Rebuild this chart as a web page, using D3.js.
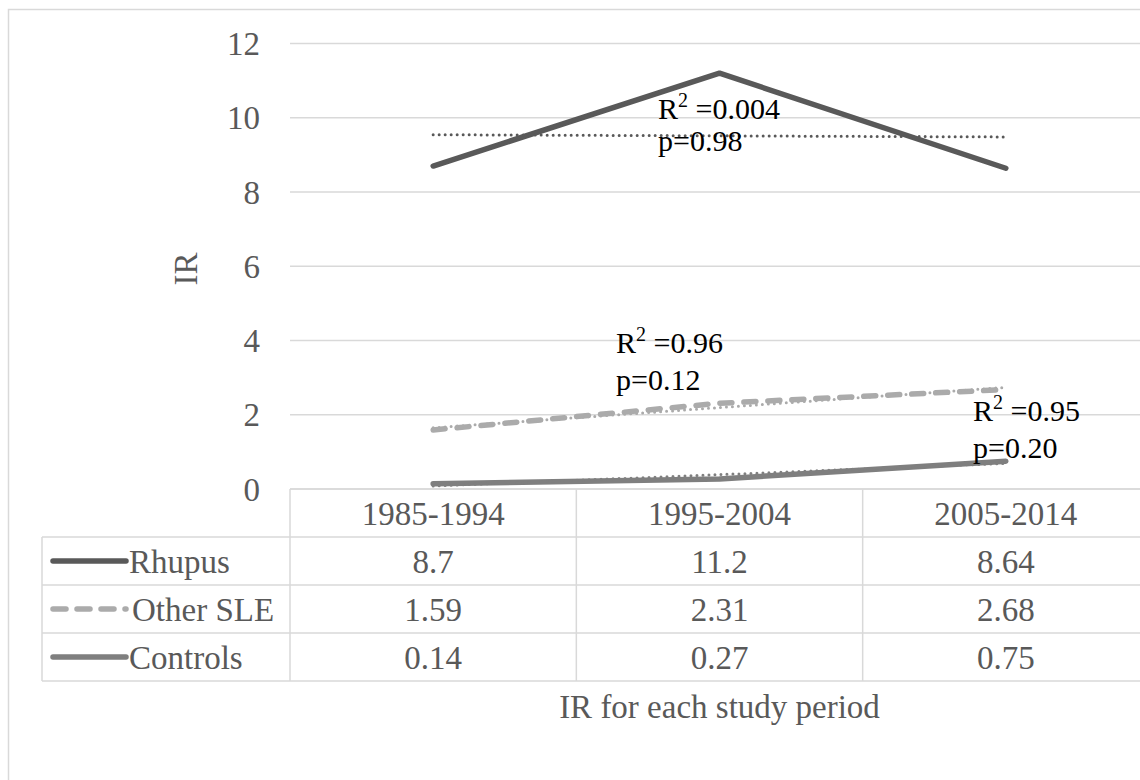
<!DOCTYPE html>
<html>
<head>
<meta charset="utf-8">
<script src="https://cdn.jsdelivr.net/npm/d3@7"></script>
<style>
  body { margin: 0; background: #fff; }
</style>
</head>
<body>
<script>
// data
var periods = ["1985-1994", "1995-2004", "2005-2014"];
var seriesNames = ["Rhupus", "Other SLE", "Controls"];
var rhupus = [8.7, 11.2, 8.64];
var otherSLE = [1.59, 2.31, 2.68];
var controls = [0.14, 0.27, 0.75];
var tableLabels = ["8.7", "11.2", "8.64", "1.59", "2.31", "2.68", "0.14", "0.27", "0.75"];
var yTicks = [0, 2, 4, 6, 8, 10, 12];
var fitLabels = [["0.004", "0.98"], ["0.96", "0.12"], ["0.95", "0.20"]];

var W = 1140, H = 780;
var plotLeft = 290, plotRight = 1149, plotTop = 43.5, plotBottom = 489;
var rowH = 48;
var grayText = "#595959";

var svg = d3.select("body").append("svg")
    .attr("width", W)
    .attr("height", H)
    .attr("font-family", "Liberation Serif");

// chart area border
svg.append("rect")
    .attr("x", 8.5).attr("y", 9.5)
    .attr("width", 1200).attr("height", 900)
    .attr("fill", "#fff")
    .attr("stroke", "#d9d9d9")
    .attr("stroke-width", 1.5);

var x = d3.scaleBand()
    .domain(periods)
    .range([plotLeft, plotRight]);

var y = d3.scaleLinear()
    .domain([0, 12])
    .range([plotBottom, plotTop]);

function label(sel, size, color) {
  return sel.attr("font-family", "Liberation Serif")
      .style("font", size + "px 'Liberation Serif', serif")
      .attr("fill", color);
}

// gridlines
svg.append("g")
  .selectAll("line")
  .data(yTicks)
  .enter().append("line")
    .attr("x1", plotLeft).attr("x2", plotRight)
    .attr("y1", function(d) { return y(d); })
    .attr("y2", function(d) { return y(d); })
    .attr("stroke", "#d9d9d9")
    .attr("stroke-width", 1.3);

// y tick labels
svg.append("g")
  .selectAll("text")
  .data(yTicks)
  .enter().append("text")
    .attr("x", 260)
    .attr("y", function(d) { return y(d); })
    .attr("dy", "0.35em")
    .attr("text-anchor", "end")
    .call(label, 33, grayText)
    .text(function(d) { return d; });

// y axis title
svg.append("text")
    .attr("transform", "translate(197,269) rotate(-90)")
    .attr("text-anchor", "middle")
    .call(label, 33, grayText)
    .text("IR");

var series = [
  {name: seriesNames[0], values: rhupus, color: "#595959", dash: null},
  {name: seriesNames[1], values: otherSLE, color: "#ababab", dash: "12,12"},
  {name: seriesNames[2], values: controls, color: "#7f7f7f", dash: null}
];

var cx = function(i) { return x(periods[i]) + x.bandwidth() / 2; };

var line = d3.line()
    .x(function(d, i) { return cx(i); })
    .y(function(d) { return y(d); });

// linear trend computed from each series
function trend(vals) {
  var xs = vals.map(function(d, i) { return i; });
  var mx = d3.mean(xs), my = d3.mean(vals);
  var num = d3.sum(xs, function(xi, i) { return (xi - mx) * (vals[i] - my); });
  var den = d3.sum(xs, function(xi) { return (xi - mx) * (xi - mx); });
  var b = num / den, a = my - b * mx;
  return xs.map(function(xi) { return a + b * xi; });
}

series.forEach(function(s) {
  svg.append("path")
      .datum(s.values)
      .attr("d", line)
      .attr("fill", "none")
      .attr("stroke", s.color)
      .attr("stroke-width", 5.5)
      .attr("stroke-linecap", "round")
      .attr("stroke-linejoin", "round")
      .attr("stroke-dasharray", s.dash);
  svg.append("path")
      .datum(trend(s.values))
      .attr("d", line)
      .attr("fill", "none")
      .attr("stroke", s.color)
      .attr("stroke-width", 3)
      .attr("stroke-linecap", "round")
      .attr("stroke-dasharray", "0,6");
});

// R2 / p annotations
var fitPos = [[658, 119, 151], [616, 353, 390], [973, 421, 458]];
fitLabels.forEach(function(f, i) {
  var p = fitPos[i];
  var t = svg.append("text")
      .attr("x", p[0]).attr("y", p[1])
      .call(label, 30, "#000");
  t.append("tspan").text("R");
  t.append("tspan").attr("dy", -12).style("font-size", "20px").text("2");
  t.append("tspan").attr("dy", 12).text(" =" + f[0]);
  svg.append("text")
      .attr("x", p[0]).attr("y", p[2])
      .call(label, 30, "#000")
      .text("p=" + f[1]);
});

// data table
var tbl = svg.append("g");
var rowYs = [0, 1, 2, 3, 4].map(function(k) { return plotBottom + k * rowH; });
var tableLeft = 42;

// horizontal lines
tbl.selectAll("line.h")
  .data(rowYs)
  .enter().append("line")
    .attr("class", "h")
    .attr("x1", function(d, i) { return i === 0 ? plotLeft : tableLeft; })
    .attr("x2", plotRight)
    .attr("y1", function(d) { return d; })
    .attr("y2", function(d) { return d; })
    .attr("stroke", "#d9d9d9")
    .attr("stroke-width", 1.5);

// vertical lines
var vx = [plotLeft].concat(periods.map(function(p) { return x(p) + x.bandwidth(); }));
tbl.selectAll("line.v")
  .data(vx)
  .enter().append("line")
    .attr("class", "v")
    .attr("x1", function(d) { return d; })
    .attr("x2", function(d) { return d; })
    .attr("y1", plotBottom)
    .attr("y2", rowYs[4])
    .attr("stroke", "#d9d9d9")
    .attr("stroke-width", 1.5);
tbl.append("line")
    .attr("x1", tableLeft).attr("x2", tableLeft)
    .attr("y1", rowYs[1]).attr("y2", rowYs[4])
    .attr("stroke", "#d9d9d9")
    .attr("stroke-width", 1.5);

// header
tbl.selectAll("text.head")
  .data(periods)
  .enter().append("text")
    .attr("class", "head")
    .attr("x", function(d) { return x(d) + x.bandwidth() / 2; })
    .attr("y", plotBottom + rowH / 2)
    .attr("dy", "0.35em")
    .attr("text-anchor", "middle")
    .call(label, 33, grayText)
    .text(function(d) { return d; });

// rows
series.forEach(function(s, r) {
  var ry = rowYs[r + 1] + rowH / 2;
  tbl.append("line")
      .attr("x1", 53).attr("x2", 126)
      .attr("y1", ry).attr("y2", ry)
      .attr("stroke", s.color)
      .attr("stroke-width", 5.5)
      .attr("stroke-linecap", "round")
      .attr("stroke-dasharray", s.dash ? "13,11" : null);
  tbl.append("text")
      .attr("x", r === 1 ? 132 : 129)
      .attr("y", ry)
      .attr("dy", "0.35em")
      .call(label, 33, grayText)
      .text(s.name);
  periods.forEach(function(p, c) {
    tbl.append("text")
        .attr("x", x(p) + x.bandwidth() / 2)
        .attr("y", ry)
        .attr("dy", "0.35em")
        .attr("text-anchor", "middle")
        .call(label, 33, grayText)
        .text(tableLabels[r * 3 + c]);
  });
});

// x axis title
svg.append("text")
    .attr("x", (plotLeft + plotRight) / 2)
    .attr("y", 718)
    .attr("text-anchor", "middle")
    .call(label, 33, grayText)
    .text("IR for each study period");
</script>
</body>
</html>
